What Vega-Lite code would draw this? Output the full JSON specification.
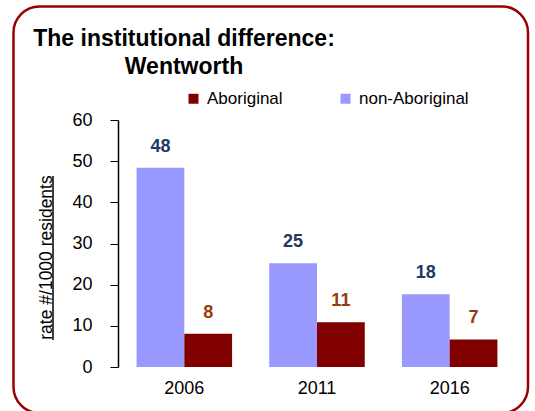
{
  "$schema": "https://vega.github.io/schema/vega-lite/v6.json",
  "width": 398,
  "height": 247,
  "autosize": {"type": "none"},
  "padding": {"left": 118, "top": 120, "right": 19, "bottom": 44},
  "background": "white",
  "config": {"font": "Liberation Sans", "view": {"stroke": null}},
  "title": {
    "text": ["The institutional difference:", "Wentworth"],
    "fontSize": 23,
    "fontWeight": "bold",
    "font": "Liberation Sans",
    "color": "black",
    "anchor": "start",
    "frame": "group",
    "align": "center",
    "dx": 66,
    "lineHeight": 28,
    "offset": -74
  },
  "layer": [
    {
      "data": {"values": [
        {"year": "2006", "group": "non-Aboriginal", "rate": 48.4},
        {"year": "2006", "group": "Aboriginal", "rate": 8.1},
        {"year": "2011", "group": "non-Aboriginal", "rate": 25.2},
        {"year": "2011", "group": "Aboriginal", "rate": 10.9},
        {"year": "2016", "group": "non-Aboriginal", "rate": 17.7},
        {"year": "2016", "group": "Aboriginal", "rate": 6.7}
      ]},
      "layer": [
        {
          "mark": {"type": "bar"},
          "encoding": {
            "x": {
              "field": "year", "type": "nominal",
              "scale": {"paddingInner": 0.28, "paddingOuter": 0.14},
              "axis": {"title": null, "domain": false, "ticks": false, "labelAngle": 0, "labelFontSize": 18, "labelColor": "black", "labelPadding": 12}
            },
            "xOffset": {"field": "group", "type": "nominal", "sort": ["non-Aboriginal", "Aboriginal"]},
            "y": {
              "field": "rate", "type": "quantitative",
              "scale": {"domain": [0, 60], "nice": false},
              "axis": {
                "title": "rate #/1000 residents",
                "titleFont": "Liberation Sans",
                "titleFontSize": 17.5,
                "titleFontWeight": "normal",
                "titleColor": "black",
                "titleX": -67,
                "titleY": 137,
                "titleBaseline": "alphabetic",
                "titleAlign": "center",
                "titleAngle": -90,
                "values": [0, 10, 20, 30, 40, 50, 60],
                "grid": false,
                "domainColor": "black",
                "domainWidth": 1.5,
                "tickColor": "black",
                "tickSize": 8,
                "labelFontSize": 18,
                "labelColor": "black",
                "labelPadding": 18
              }
            },
            "color": {
              "field": "group", "type": "nominal",
              "scale": {"domain": ["Aboriginal", "non-Aboriginal"], "range": ["#800000", "#9999FF"]},
              "legend": {
                "orient": "none", "legendX": 67, "legendY": -30, "direction": "horizontal",
                "title": null, "symbolType": "square", "symbolSize": 100, "symbolStrokeWidth": 0,
                "symbolOpacity": 1,
                "labelFont": "Liberation Sans", "labelFontSize": 17, "labelOffset": 5,
                "columnPadding": 54, "padding": 0, "labelColor": "black"
              }
            }
          }
        },
        {
          "mark": {"type": "text", "dy": -16, "fontSize": 18, "fontWeight": "bold", "baseline": "alphabetic"},
          "encoding": {
            "x": {"field": "year", "type": "nominal"},
            "xOffset": {"field": "group", "type": "nominal", "sort": ["non-Aboriginal", "Aboriginal"]},
            "y": {"field": "rate", "type": "quantitative"},
            "text": {"field": "rate", "type": "quantitative", "format": ".0f"},
            "color": {
              "condition": {"test": "datum.group === 'Aboriginal'", "value": "#943A0C"},
              "value": "#1F3864"
            }
          }
        }
      ]
    },
    {
      "data": {"values": [{}]},
      "mark": {"type": "rule", "stroke": "black", "strokeWidth": 1.5},
      "encoding": {"x": {"value": -65}, "y": {"value": 56}, "y2": {"value": 220}}
    },
    {
      "data": {"values": [{}]},
      "mark": {"type": "rect", "fill": null, "stroke": "#990000", "strokeWidth": 2.5, "cornerRadius": 26},
      "encoding": {"x": {"value": -104.5}, "x2": {"value": 410}, "y": {"value": -113.5}, "y2": {"value": 293}}
    }
  ]
}
